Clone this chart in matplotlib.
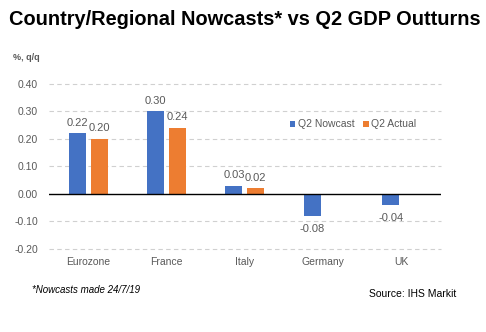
import numpy as np
from matplotlib import pyplot as plt

plt.rcParams['font.family'] = ['Liberation Sans', 'DejaVu Sans']

countries = ["Eurozone", "France", "Italy", "Germany", "UK"]
nowcast = [0.22, 0.30, 0.03, -0.08, -0.04]
actual = [0.20, 0.24, 0.02, None, None]
y_ticks = [-0.20, -0.10, 0.00, 0.10, 0.20, 0.30, 0.40]

BLUE = "#4472C4"
ORANGE = "#ED7D31"
GREY = "#595959"

fig = plt.figure(figsize=(4.86, 3.32), dpi=100)
ax = fig.add_axes([0.1008, 0.25, 0.806, 0.497])

x = np.arange(len(countries))
width = 0.22
offset = 0.14

# gridlines behind the bars, solid line at zero
for t in y_ticks:
    if t == 0:
        continue
    ax.axhline(t, color="#D0D0D0", lw=0.8, ls=(0, (4, 3)), zorder=0, clip_on=False)

bars_now = ax.bar(x - offset, nowcast, width, color=BLUE, label="Q2 Nowcast", zorder=2)
act_x = [xi + offset for xi, v in zip(x, actual) if v is not None]
act_v = [v for v in actual if v is not None]
bars_act = ax.bar(act_x, act_v, width, color=ORANGE, label="Q2 Actual", zorder=2)
ax.axhline(0, color="black", lw=1.0, zorder=3)

for bars in (bars_now, bars_act):
    for b in bars:
        v = b.get_height()
        if v >= 0:
            ax.text(b.get_x() + b.get_width() / 2, v + 0.02, "%.2f" % v,
                    ha="center", va="bottom", fontsize=8, color=GREY)
        else:
            ax.text(b.get_x() + b.get_width() / 2, v - 0.03, "%.2f" % v,
                    ha="center", va="top", fontsize=8, color=GREY)

ax.set_xlim(-0.5, len(countries) - 0.5)
ax.set_ylim(-0.2, 0.4)
ax.set_yticks(y_ticks)
ax.set_yticklabels(["%.2f" % t for t in y_ticks], fontsize=7.5, color=GREY)
ax.set_xticks(x)
ax.set_xticklabels(countries, fontsize=7.5, color=GREY)
ax.tick_params(axis="both", length=0)
ax.tick_params(axis="x", pad=6)
ax.tick_params(axis="y", pad=8)
for s in ax.spines.values():
    s.set_visible(False)

ax.legend(loc="center", bbox_to_anchor=(0.776, 0.755), ncol=2, frameon=False,
          fontsize=7.5, labelcolor=GREY, handlelength=0.55, handleheight=0.55,
          handletextpad=0.25, columnspacing=0.8)

fig.text(0.018, 0.942, "Country/Regional Nowcasts* vs Q2 GDP Outturns",
         fontsize=14.4, fontweight="bold", ha="left", va="center")
fig.text(0.027, 0.828, "%, q/q", fontsize=6.5, fontweight="bold", color=GREY,
         ha="left", va="center")
fig.text(0.066, 0.127, "*Nowcasts made 24/7/19", fontsize=7, style="italic",
         ha="left", va="center")
fig.text(0.76, 0.115, "Source: IHS Markit", fontsize=7.5, ha="left", va="center")

fig.savefig("out.png", dpi=100)
